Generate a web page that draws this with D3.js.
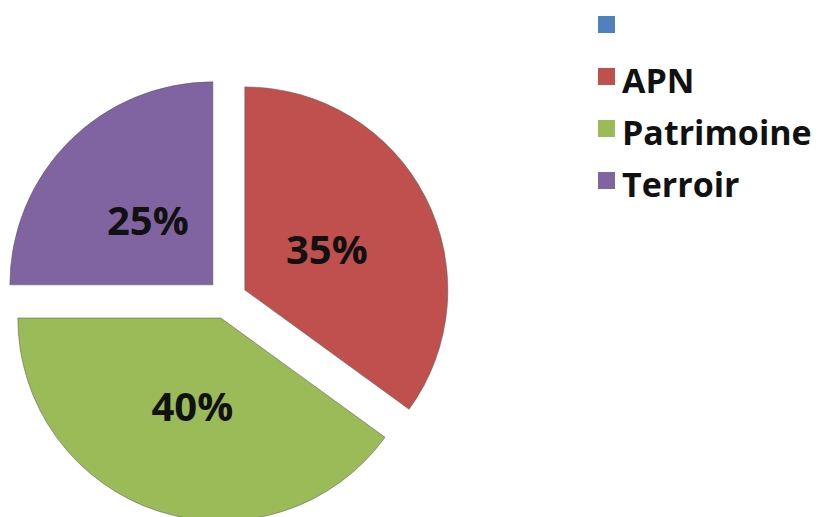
<!DOCTYPE html>
<html>
<head>
<meta charset="utf-8">
<script src="https://cdn.jsdelivr.net/npm/d3@7/dist/d3.min.js"></script>
<style>
  html, body { margin: 0; padding: 0; background: #ffffff; }
  svg { display: block; }
</style>
</head>
<body>
<svg id="chart" width="819" height="517"></svg>
<script>
// Share of each theme (percent); the first entry is an empty series
const categories = ["", "APN", "Patrimoine", "Terroir"];
const values = [0, 35, 40, 25];
const colors = ["#4F81BD", "#C0504D", "#9BBB59", "#8064A2"];

const svg = d3.select("#chart");

const cx = 227, cy = 299;
const radius = 203;
const explode = 20;
const labelRadius = 92;
const fontFamily = "'Open Sans', Lato, sans-serif";

const data = categories.map((c, i) => ({ name: c, value: values[i], color: colors[i] }));

const pie = d3.pie().sort(null).value(d => d.value);
const arcs = pie(data).filter(d => d.value > 0);

const arc = d3.arc().innerRadius(0).outerRadius(radius);
const labelArc = d3.arc().innerRadius(labelRadius).outerRadius(labelRadius);

const g = svg.append("g").attr("transform", `translate(${cx},${cy})`);

// Each slice is pulled out along its bisector
const slice = g.selectAll("g.slice")
  .data(arcs)
  .join("g")
  .attr("class", "slice")
  .attr("transform", d => {
    const mid = (d.startAngle + d.endAngle) / 2;
    return `translate(${Math.sin(mid) * explode},${-Math.cos(mid) * explode})`;
  });

slice.append("path")
  .attr("d", arc)
  .attr("fill", d => d.data.color)
  .attr("stroke", "rgba(90,90,90,0.55)")
  .attr("stroke-width", 1);

slice.append("text")
  .attr("transform", d => `translate(${labelArc.centroid(d)})`)
  .attr("text-anchor", "middle")
  .attr("dominant-baseline", "central")
  .attr("font-family", fontFamily)
  .attr("font-weight", 700)
  .attr("font-size", 40)
  .attr("fill", "#111")
  .text(d => `${d.data.value}%`);

// Legend
const legend = svg.append("g").attr("transform", "translate(598,16)");
const item = legend.selectAll("g")
  .data(data)
  .join("g")
  .attr("transform", (d, i) => `translate(0,${i * 52})`);

item.append("rect")
  .attr("width", 17)
  .attr("height", 17)
  .attr("fill", d => d.color);

item.append("text")
  .attr("x", 24)
  .attr("y", 25)
  .attr("font-family", fontFamily)
  .attr("font-weight", 700)
  .attr("font-size", 34)
  .attr("fill", "#111")
  .text(d => d.name);
</script>
</body>
</html>
